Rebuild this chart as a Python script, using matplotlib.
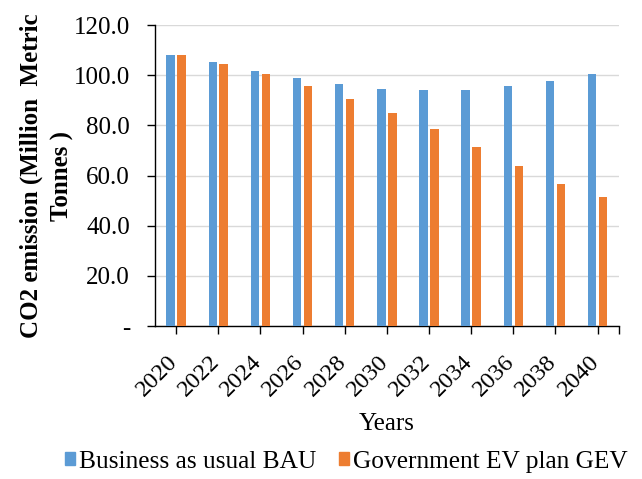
import numpy as np
import matplotlib.pyplot as plt
from matplotlib.patches import Patch
from matplotlib.transforms import ScaledTranslation

years = ['2020', '2022', '2024', '2026', '2028', '2030',
         '2032', '2034', '2036', '2038', '2040']
bau = [108.2, 105.3, 101.7, 98.7, 96.4, 94.5, 94.0, 94.0, 95.7, 97.5, 100.5]
gev = [108.2, 104.6, 100.5, 95.7, 90.4, 85.1, 78.6, 71.4, 63.9, 56.7, 51.4]
y_ticks = [0, 20, 40, 60, 80, 100, 120]
y_tick_labels = ['-', '20.0', '40.0', '60.0', '80.0', '100.0', '120.0']

blue = '#5B9BD5'
orange = '#ED7D31'

plt.rcParams['font.family'] = 'Liberation Serif'

fig = plt.figure(figsize=(6.42, 4.79), dpi=100)
ax = fig.add_axes([0.2414, 0.3194, 0.7223, 0.6284])

x = np.arange(len(years))
w = 0.2
ax.bar(x - 0.13, bau, w, color=blue, zorder=3)
ax.bar(x + 0.13, gev, w, color=orange, zorder=3)

ax.set_xlim(-0.5, len(years) - 0.5)
ax.set_ylim(0, 120)
ax.set_yticks(y_ticks)
ax.set_yticklabels(y_tick_labels, fontsize=18)
ax.set_xticks(list(x) + [len(years) - 0.5])
ax.set_xticklabels(years + [''], fontsize=17.5, rotation=45, ha='right')
ax.tick_params(axis='y', length=6, width=1, pad=12)
ax.tick_params(axis='x', length=6, width=1, pad=12)

# nudge the rotated year labels a little to the right of their ticks
shift = ScaledTranslation(4 / 72, 0, fig.dpi_scale_trans)
for lab in ax.get_xticklabels():
    lab.set_transform(lab.get_transform() + shift)

ax.grid(axis='y', color='#D9D9D9', linewidth=1, zorder=0)
for side in ['top', 'right']:
    ax.spines[side].set_visible(False)
for side in ['left', 'bottom']:
    ax.spines[side].set_color('black')
    ax.spines[side].set_linewidth(1)

ax.set_ylabel('CO2 emission (Million  Metric\nTonnes )', fontsize=18,
              fontweight='bold', multialignment='center', linespacing=1.4,
              labelpad=0)
ax.set_xlabel('Years', fontsize=18, labelpad=9)

handles = [Patch(color=blue, label='Business as usual BAU'),
           Patch(color=orange, label='Government EV plan GEV')]
fig.legend(handles=handles, loc='lower center', bbox_to_anchor=(0.539, -0.035),
           ncol=2, frameon=False, fontsize=18.3, handlelength=0.4,
           handleheight=0.4, handletextpad=0.15, columnspacing=0.9)

fig.savefig('out.png', dpi=100)
